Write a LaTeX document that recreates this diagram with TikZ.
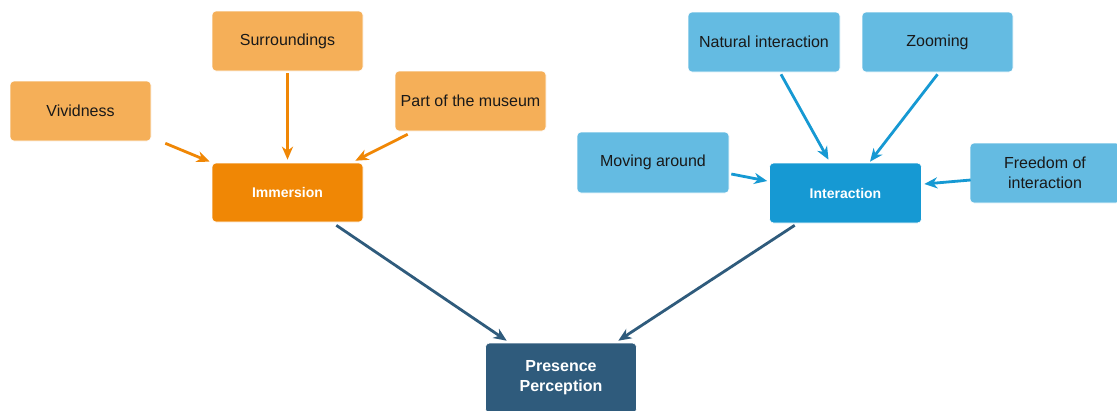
\documentclass[tikz,border=0pt]{standalone}
\usepackage{fontspec}
\setmainfont{Liberation Sans}
\usetikzlibrary{arrows.meta,calc}

\definecolor{lightorange}{HTML}{F5AF58}
\definecolor{darkorange}{HTML}{F08705}
\definecolor{lightblue}{HTML}{64BBE2}
\definecolor{darkblue}{HTML}{1699D3}
\definecolor{navy}{HTML}{2F5B7C}

\tikzset{
  box/.style={rectangle, rounded corners=4pt, draw=white, line width=0.6pt,
    align=center, inner sep=2pt, text=black!90,
    font=\fontsize{16}{20}\selectfont},
  factor/.style={box, minimum width=151pt, minimum height=60pt},
  orangefactor/.style={factor, fill=lightorange},
  bluefactor/.style={factor, fill=lightblue},
  hub/.style={box, minimum width=151pt, minimum height=60pt, text=white,
    font=\fontsize{14}{18}\selectfont\bfseries},
  link/.style={line width=2.8pt, -{Stealth[length=13pt,width=11pt,inset=4pt]}},
}

\begin{document}
\begin{tikzpicture}[x=1pt, y=-1pt]
\clip (0,0) rectangle (1117,410);
\fill[white] (0,0) rectangle (1117,410);

% immersion branch
\node[orangefactor, minimum width=141pt] (viv) at (80.5,111) {Vividness};
\node[orangefactor] (sur) at (287.5,41) {Surroundings};
\node[orangefactor] (part) at (470.5,101) {Part of the museum};
\node[hub, fill=darkorange, minimum height=59pt] (imm) at (287.5,192.5) {Immersion};

% interaction branch
\node[bluefactor, minimum width=152pt] (nat) at (764,42) {Natural interaction};
\node[bluefactor] (zoom) at (937.5,42) {Zooming};
\node[bluefactor, minimum width=152pt, minimum height=61pt] (mov) at (653,162.5) {Moving around};
\node[bluefactor, minimum width=150pt] (free) at (1045,173) {Freedom of\\interaction};
\node[hub, fill=darkblue, minimum width=152pt] (int) at (845.5,193) {Interaction};

% outcome
\node[hub, fill=navy, minimum height=70pt, font=\fontsize{16}{20}\selectfont\bfseries] (pres) at (561,378) {Presence\\Perception};

% orange connectors
\draw[link, darkorange] ($(viv.south east)+(14,2)$) -- ($(imm.north west)+(-2,-1)$);
\draw[link, darkorange] ($(sur.south)+(0,2)$) -- ($(imm.north)+(0,-3)$);
\draw[link, darkorange] ($(part.south west)+(13,3)$) -- ($(imm.north east)+(-8,-2)$);

% blue connectors
\draw[link, darkblue] ($(nat.south)+(17,2)$) -- ($(int.north)+(-17,-3)$);
\draw[link, darkblue] ($(zoom.south)+(0,2)$) -- ($(int.north)+(24.5,-1)$);
\draw[link, darkblue] ($(mov.east)+(2,11.5)$) -- ($(int.west)+(-2,-12)$);
\draw[link, darkblue] ($(free.west)+(1,7)$) -- ($(int.east)+(2.5,-9)$);

% into presence perception
\draw[link, navy] ($(imm.south east)+(-27,3)$) -- ($(pres.north west)+(21.5,-2)$);
\draw[link, navy] ($(int.south west)+(25.5,2)$) -- ($(pres.north east)+(-18.5,-2)$);
\end{tikzpicture}
\end{document}
